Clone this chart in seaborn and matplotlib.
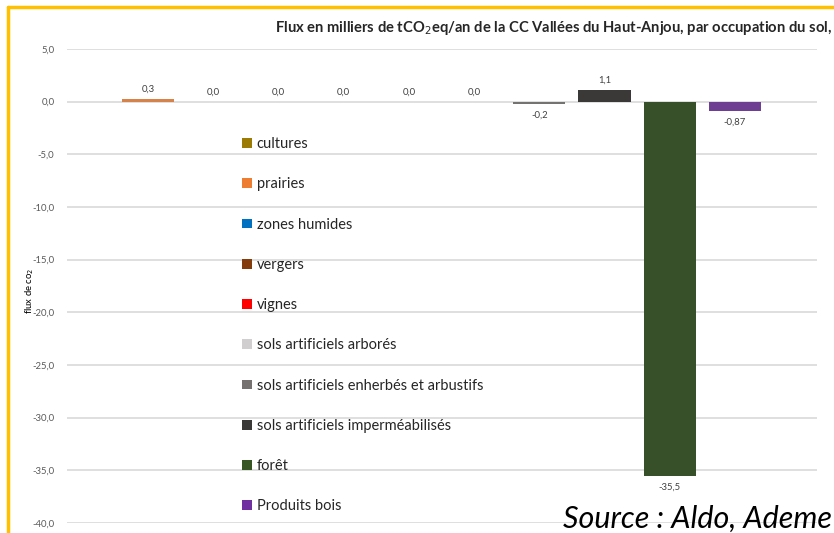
import seaborn as sns
import pandas as pd
import matplotlib.pyplot as plt
from matplotlib.patches import Patch
from matplotlib.lines import Line2D

# ordre des barres (tel qu'affiché)
bar_order = ["prairies", "cultures", "zones humides", "vergers", "vignes",
             "sols artificiels arborés", "sols artificiels enherbés et arbustifs",
             "sols artificiels imperméabilisés", "forêt", "Produits bois"]
flux = [0.3, 0.0, 0.0, 0.0, 0.0, 0.0, -0.2, 1.1, -35.5, -0.87]
flux_labels = ["0,3", "0,0", "0,0", "0,0", "0,0", "0,0", "-0,2", "1,1", "-35,5", "-0,87"]

# ordre de la légende
legend_order = ["cultures", "prairies", "zones humides", "vergers", "vignes",
                "sols artificiels arborés", "sols artificiels enherbés et arbustifs",
                "sols artificiels imperméabilisés", "forêt", "Produits bois"]
colors = ["#9C7B05", "#ED7D31", "#0070C0", "#843C0C", "#FF0000",
          "#D0CECE", "#767171", "#3B3838", "#375623", "#7030A0"]
palette = dict(zip(legend_order, colors))

yticks = [5, 0, -5, -10, -15, -20, -25, -30, -35, -40]
ytick_labels = ["5,0", "0,0", "-5,0", "-10,0", "-15,0", "-20,0", "-25,0", "-30,0", "-35,0", "-40,0"]

df = pd.DataFrame({"occupation": bar_order, "flux": flux})

sns.set_style("white")
plt.rcParams["font.family"] = ["Lato", "DejaVu Sans"]

fig = plt.figure(figsize=(8.34, 5.33), dpi=100)
ax = fig.add_axes([67 / 834, 10 / 533, 750 / 834, 474 / 533])

sns.barplot(data=df, x="occupation", y="flux", hue="occupation", order=bar_order,
            palette=palette, width=0.8, legend=False, ax=ax, zorder=3, linewidth=0)

ax.set_xlim(-1.242, 10.258)
ax.set_ylim(-40, 5)
ax.set_yticks(yticks)
ax.set_yticklabels(ytick_labels, fontsize=6.8, color="#595959")
ax.set_xticks([])
ax.set_xlabel("")
ax.set_ylabel("flux de co$_2$", fontsize=6.8, color="#000000")
ax.yaxis.set_label_coords(-0.041, 0.49)
ax.tick_params(axis="y", length=0, pad=9)
ax.grid(axis="y", color="#D9D9D9", linewidth=1.2, zorder=0)
for s in ax.spines.values():
    s.set_visible(False)

for i, (v, lab) in enumerate(zip(flux, flux_labels)):
    off = 7 if v >= 0 else -8
    ax.annotate(lab, (i, v), xytext=(0, off), textcoords="offset points",
                ha="center", va="center", fontsize=6.8, color="#404040")

handles = [Patch(facecolor=palette[c], edgecolor="none") for c in legend_order]
ax.legend(handles, legend_order, loc="upper left", bbox_to_anchor=(0.216, 0.842),
          frameon=False, fontsize=10.5, labelspacing=1.8, handlelength=0.65,
          handleheight=0.65, handletextpad=0.35, labelcolor="#262626")

fig.text(0.998, 0.948, "Flux en milliers de tCO$_2$eq/an de la CC Vallées du Haut-Anjou, par occupation du sol,",
         ha="right", va="center", fontsize=10.6, fontweight="bold")
fig.text(0.998, 0.027, "Source : Aldo, Ademe", ha="right", va="center",
         fontsize=22, style="italic", color="#000000")

# cadre jaune
fig.add_artist(Line2D([8 / 834, 8 / 834], [0, 1 - 7 / 533], color="#FFC000", linewidth=2.5,
                      transform=fig.transFigure))
fig.add_artist(Line2D([8 / 834, 1], [1 - 7 / 533, 1 - 7 / 533], color="#FFC000", linewidth=2.5,
                      transform=fig.transFigure))

fig.savefig("out.png", dpi=100)
